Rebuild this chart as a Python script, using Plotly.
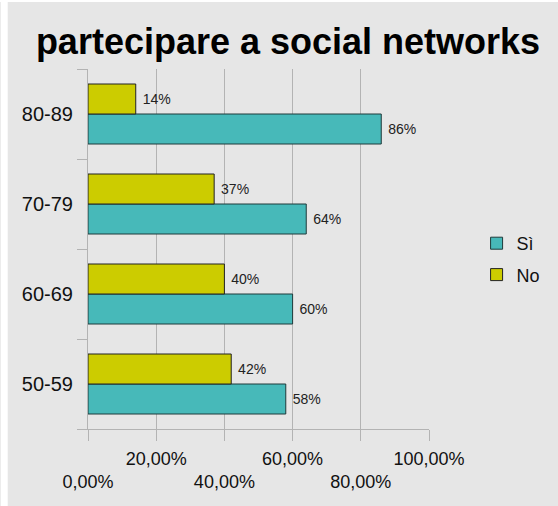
import plotly.graph_objects as go

categories = ["50-59", "60-69", "70-79", "80-89"]
si_values = [58, 60, 64, 86]
no_values = [42, 40, 37, 14]
tick_vals = [0, 20, 40, 60, 80, 100]
tick_text = ["<br>0,00%", "20,00%", "<br>40,00%", "60,00%", "<br>80,00%", "100,00%"]

W, H = 558, 506
L, R, T, B = 88, 126, 69, 77
pw, ph = W - L - R, H - T - B
NB = "\u00a0"

fig = go.Figure()
fig.add_trace(go.Bar(
    y=categories, x=si_values, name="Sì", orientation="h",
    marker=dict(color="#47b9b9", line=dict(color="#1f3a3a", width=1)),
    text=[f"{NB}{v}%" for v in si_values], textposition="outside",
    textfont=dict(size=14, color="#222222"), cliponaxis=False,
    legendgroup="a",
))
fig.add_trace(go.Bar(
    y=categories, x=no_values, name="No", orientation="h",
    marker=dict(color="#cccc00", line=dict(color="#222222", width=1)),
    text=[f"{NB}{v}%" for v in no_values], textposition="outside",
    textfont=dict(size=14, color="#222222"), cliponaxis=False,
    legendgroup="b",
))

fig.update_layout(
    width=W, height=H,
    margin=dict(l=L, r=R, t=T, b=B, pad=0),
    paper_bgcolor="#e6e6e6", plot_bgcolor="#e6e6e6",
    font=dict(family="Liberation Sans, Arial, sans-serif", color="#111111"),
    barmode="group", bargap=1/3, bargroupgap=0,
    title=dict(text="<b>partecipare a social networks</b>",
               font=dict(size=36, color="#000000"),
               x=288 / W, xref="container", xanchor="center",
               y=1 - 41 / H, yref="container", yanchor="middle"),
    legend=dict(x=(480 - L) / pw, xanchor="left", y=(H - B - 259) / ph, yanchor="middle",
                font=dict(size=18, color="#111111"), bgcolor="rgba(0,0,0,0)",
                traceorder="grouped", tracegroupgap=5),
    xaxis=dict(range=[0, 100], tickvals=tick_vals, ticktext=tick_text,
               showgrid=True, gridcolor="#b3b3b3", gridwidth=1,
               showline=True, linecolor="#b3b3b3", linewidth=1,
               ticks="outside", ticklen=11, tickcolor="#b3b3b3",
               tickfont=dict(size=18, color="#111111"), ticklabelstandoff=2,
               zeroline=False, fixedrange=True),
    yaxis=dict(showgrid=False, showline=True, linecolor="#b3b3b3", linewidth=1,
               ticks="outside", ticklen=10, tickcolor="#b3b3b3", tickson="boundaries",
               tickfont=dict(size=20, color="#111111"), ticklabelstandoff=10,
               fixedrange=True),
    shapes=[
        dict(type="rect", xref="paper", yref="paper", layer="below",
             x0=(0 - L) / pw, x1=(7 - L) / pw, y0=-B / ph - 0.1, y1=(H - T) / ph + 0.1,
             fillcolor="white", line=dict(width=0)),
        dict(type="rect", xref="paper", yref="paper", layer="below",
             x0=-L / pw - 0.1, x1=(W - L) / pw + 0.1, y0=(H - T - 10) / ph, y1=(H - T) / ph + 0.1,
             fillcolor="white", line=dict(width=0)),
    ],
)

fig.write_html("out.html")
